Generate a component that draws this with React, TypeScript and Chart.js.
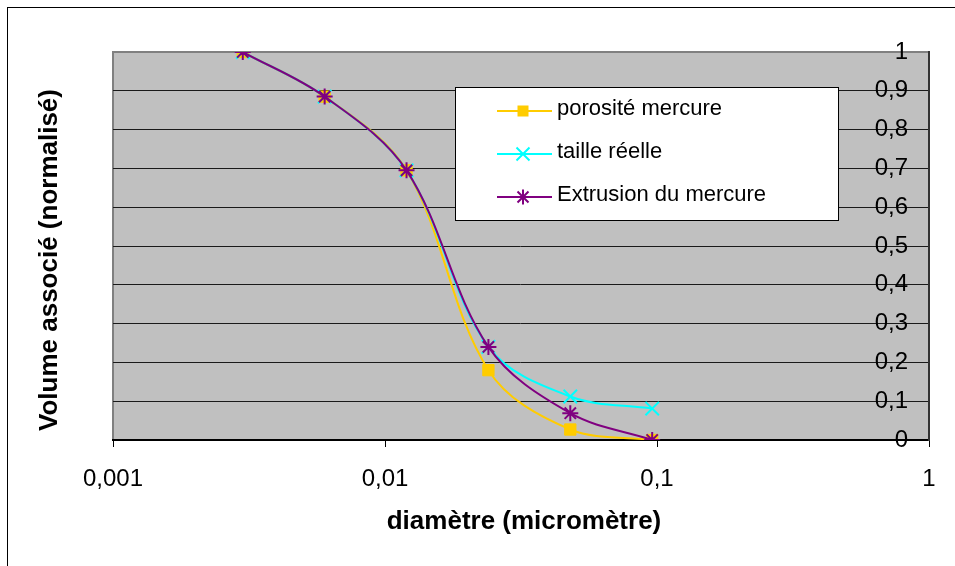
import React, { useEffect, useRef } from 'react';
import { Chart, registerables } from 'chart.js';

Chart.register(...registerables);

// ---- data ----
const diameters = [0.003, 0.006, 0.012, 0.024, 0.048, 0.096];
const porositeMercure = [1, 0.885, 0.695, 0.18, 0.027, 0];
const tailleReelle = [1, 0.885, 0.695, 0.24, 0.112, 0.081];
const extrusionMercure = [1, 0.885, 0.695, 0.24, 0.069, 0];
const seriesNames = ['porosité mercure', 'taille réelle', 'Extrusion du mercure'];
const xTickValues = [0.001, 0.01, 0.1, 1];
const xTickLabels = ['0,001', '0,01', '0,1', '1'];
const yTickValues = [0, 0.1, 0.2, 0.3, 0.4, 0.5, 0.6, 0.7, 0.8, 0.9, 1];
const yTickLabels = ['0', '0,1', '0,2', '0,3', '0,4', '0,5', '0,6', '0,7', '0,8', '0,9', '1'];
const xTitle = 'diamètre (micromètre)';
const yTitle = 'Volume associé (normalisé)';

const FONT = '"Liberation Sans", Arial, sans-serif';
const colors = ['#FFCC00', '#00FFFF', '#800080'];
const styles = ['rect', 'crossRot', 'star'];

function drawMarker(ctx: CanvasRenderingContext2D, style: string, x: number, y: number, color: string) {
  ctx.save();
  ctx.strokeStyle = color;
  ctx.fillStyle = color;
  ctx.lineWidth = 2;
  if (style === 'rect') {
    ctx.fillRect(x - 5.5, y - 5.5, 11, 11);
  } else if (style === 'crossRot') {
    const r = 6.5;
    ctx.beginPath();
    ctx.moveTo(x - r, y - r); ctx.lineTo(x + r, y + r);
    ctx.moveTo(x - r, y + r); ctx.lineTo(x + r, y - r);
    ctx.stroke();
  } else {
    const r = 7.5, d = 5.5;
    ctx.beginPath();
    ctx.moveTo(x, y - r); ctx.lineTo(x, y + r);
    ctx.moveTo(x - d, y - d); ctx.lineTo(x + d, y + d);
    ctx.moveTo(x - d, y + d); ctx.lineTo(x + d, y - d);
    ctx.stroke();
  }
  ctx.restore();
}

const decorPlugin = {
  id: 'decor',
  beforeDraw(chart: any) {
    const { ctx, chartArea: a } = chart;
    ctx.save();
    ctx.fillStyle = '#FFFFFF';
    ctx.fillRect(0, 0, chart.width, chart.height);
    ctx.strokeStyle = '#000000';
    ctx.lineWidth = 1;
    ctx.strokeRect(7.5, 7.5, chart.width + 20, chart.height + 20);
    ctx.fillStyle = '#C0C0C0';
    ctx.fillRect(a.left, a.top, a.right - a.left, a.bottom - a.top);
    ctx.strokeStyle = '#808080';
    ctx.lineWidth = 2;
    ctx.strokeRect(a.left, a.top, a.right - a.left, a.bottom - a.top);
    ctx.restore();
  },
  afterDraw(chart: any) {
    const { ctx, chartArea: a } = chart;
    ctx.save();
    // axis titles
    ctx.fillStyle = '#000000';
    ctx.font = `bold 26px ${FONT}`;
    ctx.textAlign = 'center';
    ctx.textBaseline = 'middle';
    ctx.fillText(xTitle, (a.left + a.right) / 2 + 3, 522);
    ctx.save();
    ctx.translate(50, 260);
    ctx.rotate(-Math.PI / 2);
    ctx.fillText(yTitle, 0, 0);
    ctx.restore();

    // legend
    const bx = 455, by = 87, bw = 383, bh = 133;
    ctx.fillStyle = '#FFFFFF';
    ctx.fillRect(bx, by, bw, bh);
    ctx.strokeStyle = '#000000';
    ctx.lineWidth = 1;
    ctx.strokeRect(bx + 0.5, by + 0.5, bw, bh);
    const rows = [111, 154, 197];
    chart.data.datasets.forEach((ds: any, i: number) => {
      const y = rows[i];
      ctx.strokeStyle = ds.borderColor;
      ctx.lineWidth = 2;
      ctx.beginPath();
      ctx.moveTo(497, y);
      ctx.lineTo(552, y);
      ctx.stroke();
      drawMarker(ctx, styles[i], 523, y, ds.borderColor);
      ctx.fillStyle = '#000000';
      ctx.font = `22px ${FONT}`;
      ctx.textAlign = 'left';
      ctx.textBaseline = 'middle';
      ctx.fillText(ds.label, 557, y - 2);
    });
    ctx.restore();
  },
};

function makeDataset(i: number, values: number[]) {
  return {
    label: seriesNames[i],
    data: diameters.map((d, k) => ({ x: d, y: values[k] })),
    borderColor: colors[i],
    backgroundColor: colors[i],
    pointBorderColor: colors[i],
    pointBackgroundColor: colors[i],
    pointStyle: styles[i],
    pointRadius: i === 0 ? 8 : i === 1 ? 9.5 : 8,
    pointBorderWidth: i === 0 ? 1 : 2,
    borderWidth: 2,
    tension: 0.35,
    order: 3 - i,
    fill: false,
  };
}

export default function App() {
  const canvasRef = useRef<HTMLCanvasElement | null>(null);

  useEffect(() => {
    if (!canvasRef.current) return;
    const chart = new Chart(canvasRef.current, {
      type: 'line',
      data: {
        datasets: [
          makeDataset(0, porositeMercure),
          makeDataset(1, tailleReelle),
          makeDataset(2, extrusionMercure),
        ],
      },
      options: {
        responsive: false,
        animation: false,
        events: [],
        layout: { padding: { left: 113, top: 52, right: 26, bottom: 0 } },
        plugins: {
          legend: { display: false },
          tooltip: { enabled: false },
          title: { display: false },
        },
        scales: {
          x: {
            type: 'logarithmic',
            position: 'bottom',
            min: 0.001,
            max: 1,
            afterBuildTicks: (scale: any) => {
              scale.ticks = xTickValues.map((v) => ({ value: v }));
            },
            afterFit: (scale: any) => {
              scale.height = 126;
            },
            ticks: {
              autoSkip: false,
              maxRotation: 0,
              padding: 18,
              color: '#000000',
              font: { family: FONT, size: 24 },
              callback: (value: any) => {
                const idx = xTickValues.findIndex((v) => Math.abs(v - value) < v * 1e-6);
                return idx >= 0 ? xTickLabels[idx] : '';
              },
            },
            grid: {
              display: true,
              drawOnChartArea: false,
              drawTicks: true,
              tickLength: 7,
              tickColor: '#000000',
              tickWidth: 1,
            },
            border: { display: true, color: '#000000', width: 2 },
          },
          y: {
            type: 'linear',
            position: 'right',
            min: 0,
            max: 1,
            afterBuildTicks: (scale: any) => {
              scale.ticks = yTickValues.map((v) => ({ value: v }));
            },
            afterFit: (scale: any) => {
              scale.width = 0;
            },
            ticks: {
              mirror: true,
              padding: -21,
              color: '#000000',
              font: { family: FONT, size: 24 },
              callback: (_value: any, index: number) => yTickLabels[index],
            },
            grid: {
              display: true,
              drawTicks: false,
              color: (c: any) => (c.tick && c.tick.value === 1 ? '#808080' : '#1A1A1A'),
              lineWidth: 1,
            },
            border: { display: true, color: '#333333', width: 2 },
          },
        },
      },
      plugins: [decorPlugin],
    } as any);
    return () => chart.destroy();
  }, []);

  return (
    <div style={{ position: 'absolute', left: 0, top: 0, width: 955, height: 566 }}>
      <canvas ref={canvasRef} width={955} height={566} style={{ width: 955, height: 566, display: 'block' }} />
    </div>
  );
}
